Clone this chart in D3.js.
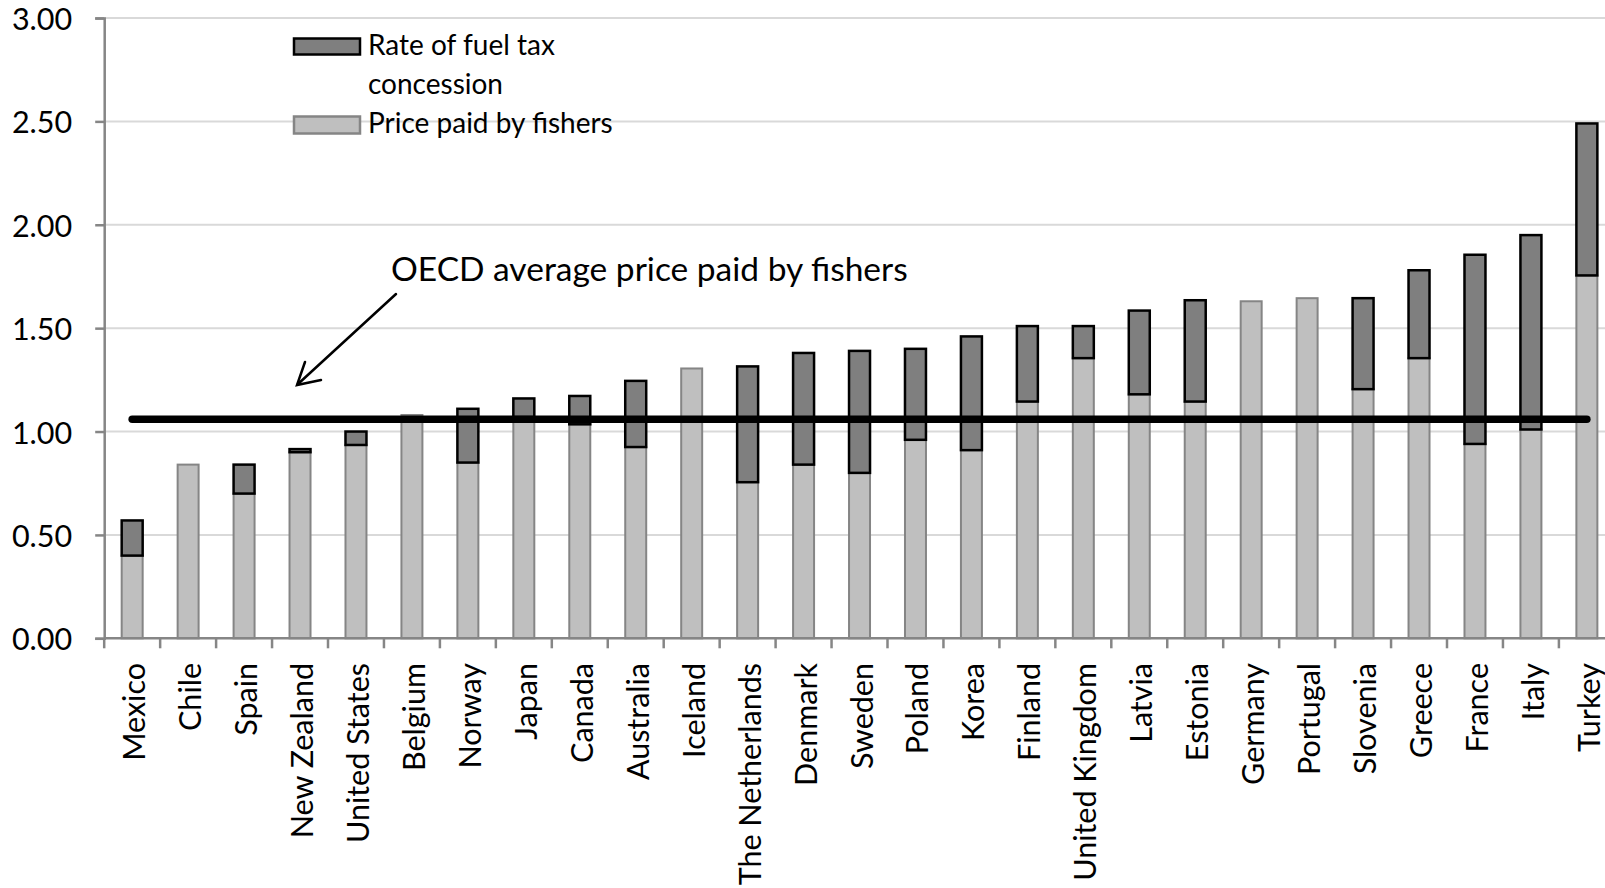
<!DOCTYPE html>
<html>
<head>
<meta charset="utf-8">
<script src="https://cdn.jsdelivr.net/npm/d3@7"></script>
<style>
  html, body { margin: 0; padding: 0; background: #fff; overflow: hidden; }
  svg { display: block; font-family: Lato, "Open Sans", sans-serif; }
</style>
</head>
<body>
<svg id="chart" width="1605" height="888"></svg>
<script>
// Fuel price paid by fishers and rate of fuel tax concession, by country
const countries = ["Mexico", "Chile", "Spain", "New Zealand", "United States", "Belgium", "Norway",
  "Japan", "Canada", "Australia", "Iceland", "The Netherlands", "Denmark", "Sweden", "Poland",
  "Korea", "Finland", "United Kingdom", "Latvia", "Estonia", "Germany", "Portugal", "Slovenia",
  "Greece", "France", "Italy", "Turkey"];

const pricePaid = [0.40, 0.84, 0.70, 0.90, 0.935, 1.08, 0.85, 1.07, 1.035, 0.925, 1.305, 0.755,
  0.84, 0.80, 0.96, 0.91, 1.145, 1.355, 1.18, 1.145, 1.63, 1.645, 1.205, 1.355, 0.94, 1.01, 1.755];

const taxConcession = [0.17, 0, 0.14, 0.015, 0.065, 0, 0.26, 0.09, 0.137, 0.32, 0, 0.56,
  0.54, 0.59, 0.44, 0.55, 0.365, 0.155, 0.405, 0.49, 0, 0, 0.44, 0.425, 0.915, 0.94, 0.735];

const oecdAverage = 1.06;

const yTicks = [0, 0.5, 1.0, 1.5, 2.0, 2.5, 3.0];

const seriesNames = ["Rate of fuel tax concession", "Price paid by fishers"];
const annotationText = "OECD average price paid by fishers";

const svg = d3.select("#chart");

const plotLeft = 104.2, step = 55.95, plotTop = 18, plotBottom = 638.3;

const x = d3.scaleBand()
  .domain(countries)
  .range([plotLeft, plotLeft + step * countries.length])
  .paddingInner(0.625)
  .paddingOuter(0.3125);

const y = d3.scaleLinear().domain([0, 3]).range([plotBottom, plotTop]);

const rows = countries.map((c, i) => ({ country: c, price: pricePaid[i], conc: taxConcession[i] }));

// gridlines
svg.append("g")
  .selectAll("line")
  .data(yTicks.filter(d => d > 0))
  .join("line")
  .attr("x1", plotLeft).attr("x2", 1605)
  .attr("y1", d => y(d)).attr("y2", d => y(d))
  .attr("stroke", "#d9d9d9").attr("stroke-width", 2);

// price bars
svg.append("g")
  .selectAll("rect")
  .data(rows)
  .join("rect")
  .attr("x", d => x(d.country))
  .attr("width", x.bandwidth())
  .attr("y", d => y(d.price))
  .attr("height", d => y(0) - y(d.price))
  .attr("fill", "#bfbfbf")
  .attr("stroke", "#858585")
  .attr("stroke-width", 2);

// concession bars stacked on top
svg.append("g")
  .selectAll("rect")
  .data(rows.filter(d => d.conc > 0))
  .join("rect")
  .attr("x", d => x(d.country))
  .attr("width", x.bandwidth())
  .attr("y", d => y(d.price + d.conc))
  .attr("height", d => y(d.price) - y(d.price + d.conc))
  .attr("fill", "#7f7f7f")
  .attr("stroke", "#000")
  .attr("stroke-width", 2.5);

// OECD average line
const avgLine = d3.line()
  .x(d => x(d) + x.bandwidth() / 2)
  .y(() => y(oecdAverage));

svg.append("path")
  .datum(countries)
  .attr("d", avgLine)
  .attr("fill", "none")
  .attr("stroke", "#000")
  .attr("stroke-width", 7.5)
  .attr("stroke-linecap", "round");

// y axis
const yAxis = d3.axisLeft(y)
  .tickValues(yTicks)
  .tickFormat(d3.format(".2f"))
  .tickSize(9)
  .tickPadding(23);

const gy = svg.append("g")
  .attr("transform", `translate(${plotLeft},0)`)
  .call(yAxis);
gy.select(".domain").attr("stroke", "#868686").attr("stroke-width", 2.5);
gy.selectAll(".tick line").attr("stroke", "#868686").attr("stroke-width", 2.5);
gy.selectAll(".tick text")
  .attr("fill", "#000")
  .attr("font-size", 30.5)
  .attr("font-family", "Lato, sans-serif")
  .attr("dy", "0.38em");

// x axis line with ticks at category boundaries
const gx = svg.append("g");
gx.append("line")
  .attr("x1", plotLeft).attr("x2", 1605)
  .attr("y1", y(0)).attr("y2", y(0))
  .attr("stroke", "#868686").attr("stroke-width", 2.5);

const gap = x.step() - x.bandwidth();
const boundaries = countries.map(c => x(c) - gap / 2);
gx.selectAll("line.tick")
  .data(boundaries)
  .join("line")
  .attr("class", "tick")
  .attr("x1", d => d).attr("x2", d => d)
  .attr("y1", y(0)).attr("y2", y(0) + 10)
  .attr("stroke", "#868686").attr("stroke-width", 2.5);

gx.selectAll("text")
  .data(countries)
  .join("text")
  .attr("transform", d => `translate(${x(d) + x.bandwidth() / 2 + 13},663) rotate(-90)`)
  .attr("text-anchor", "end")
  .attr("font-size", 30.5)
  .attr("fill", "#000")
  .text(d => d);

// legend
const legend = svg.append("g");
legend.append("rect")
  .attr("x", 294).attr("y", 38.5).attr("width", 66).attr("height", 16)
  .attr("fill", "#7f7f7f").attr("stroke", "#000").attr("stroke-width", 2.5);
legend.append("rect")
  .attr("x", 294).attr("y", 116.5).attr("width", 66).attr("height", 17)
  .attr("fill", "#bfbfbf").attr("stroke", "#858585").attr("stroke-width", 2.5);

const legendText = legend.append("text")
  .attr("x", 368).attr("font-size", 28).attr("fill", "#000");
legendText.append("tspan").attr("x", 368).attr("y", 55).text("Rate of fuel tax");
legendText.append("tspan").attr("x", 368).attr("y", 94).text("concession");
legend.append("text")
  .attr("x", 368).attr("y", 133).attr("font-size", 28).attr("fill", "#000")
  .text(seriesNames[1]);

// annotation with arrow
svg.append("text")
  .attr("x", 391).attr("y", 281)
  .attr("font-size", 33.5)
  .attr("fill", "#000")
  .text(annotationText);

const arrow = svg.append("g")
  .attr("stroke", "#000").attr("stroke-width", 2.5).attr("fill", "none")
  .attr("stroke-linecap", "round");
arrow.append("line").attr("x1", 396).attr("y1", 294).attr("x2", 298).attr("y2", 384);
arrow.append("polyline").attr("points", "305,362 297,385 321,380");
</script>
</body>
</html>
